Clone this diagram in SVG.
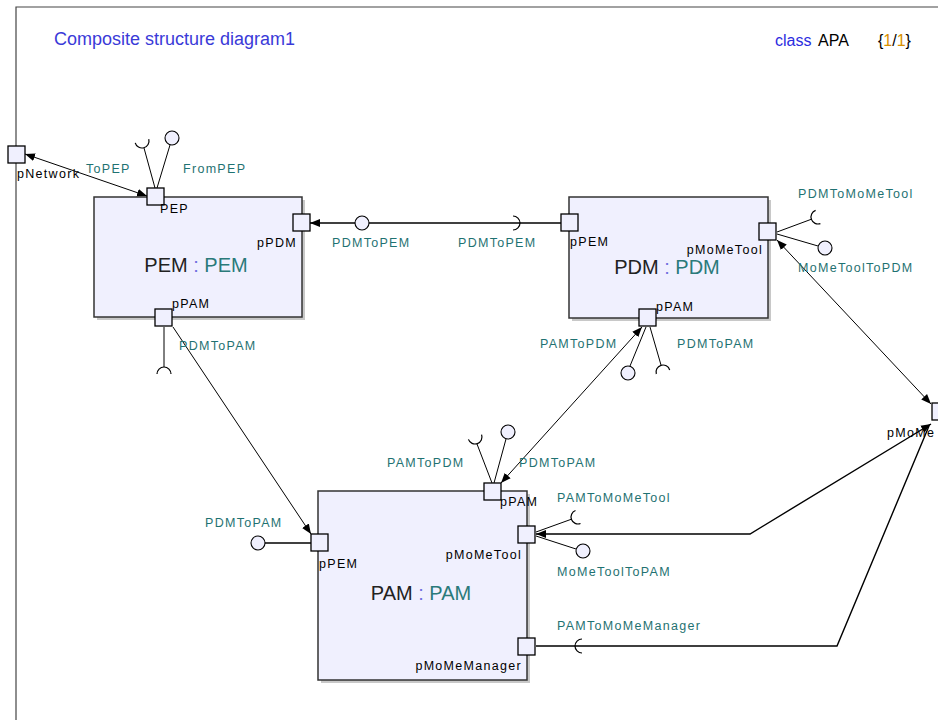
<svg xmlns="http://www.w3.org/2000/svg" width="938" height="720" viewBox="0 0 938 720">
<defs>
<marker id="ah" viewBox="0 0 10 10" refX="10" refY="5" markerWidth="10" markerHeight="10" markerUnits="userSpaceOnUse" orient="auto-start-reverse"><path d="M0,1 L10,5 L0,9 Z" fill="#000"/></marker>
<path id="sock" d="M0,-7 A7,7 0 0 0 0,7" fill="none" stroke="#000" stroke-width="1.2"/>
</defs>
<style>
text{font-family:"Liberation Sans",Arial,sans-serif}
.box{fill:#f0f0fe;stroke:#333;stroke-width:1.5}
.shadow{fill:#c8c8c8}
.port{fill:#f0f0fe;stroke:#000;stroke-width:1.3}
.lab{font-size:12.5px;fill:#000;letter-spacing:1.3px}
.itf{font-size:12.5px;fill:#1f7272;letter-spacing:1.3px}
.ttl{font-size:20px;fill:#222}
.ty{fill:#2a7a7a}
.col{fill:#7070e0}
.ln{fill:none;stroke:#000;stroke-width:1}
.ln2{fill:none;stroke:#000;stroke-width:1.4}
.lol{fill:#f0f0fe;stroke:#000;stroke-width:1.1}
</style>
<rect width="938" height="720" fill="#fff"/>
<g id="frame">
<path d="M16,720 V7 H938" fill="none" stroke="#444" stroke-width="1.2"/>
<text x="54" y="45" font-size="18" fill="#3a3ad8">Composite structure diagram1</text>
<text y="46" font-size="16"><tspan x="775" fill="#2b2be0">class</tspan><tspan x="818" fill="#000">APA</tspan><tspan x="878" fill="#000">{</tspan><tspan fill="#d89000">1</tspan><tspan fill="#000">/</tspan><tspan fill="#d89000">1</tspan><tspan fill="#000">}</tspan></text>
</g>
<g id="connectors">
<line class="ln" x1="25" y1="154" x2="147" y2="196" marker-start="url(#ah)" marker-end="url(#ah)"/>
<line class="ln2" x1="561" y1="223" x2="310" y2="223" marker-end="url(#ah)"/>
<line class="ln" x1="173" y1="327" x2="311" y2="534" marker-end="url(#ah)"/>
<line class="ln" x1="501" y1="483" x2="642" y2="327" marker-start="url(#ah)" marker-end="url(#ah)"/>
<line class="ln" x1="777" y1="240" x2="931" y2="404" marker-start="url(#ah)" marker-end="url(#ah)"/>
<polyline class="ln2" points="536,534 750,534 931,424" marker-start="url(#ah)" marker-end="url(#ah)"/>
<polyline class="ln2" points="536,646 837,646 929,426"/>
</g>
<g id="interfaces">
<line class="ln" x1="155" y1="188" x2="144" y2="148"/>
<use href="#sock" transform="translate(142,141) rotate(-105)"/>
<line class="ln" x1="157" y1="188" x2="170" y2="145"/>
<circle class="lol" cx="172" cy="138" r="7"/>
<text class="itf" x="86" y="173">ToPEP</text>
<text class="itf" x="183" y="173">FromPEP</text>
<circle class="lol" cx="362" cy="223" r="7"/>
<use href="#sock" transform="translate(513,223) rotate(180)"/>
<text class="itf" x="332" y="247">PDMToPEM</text>
<text class="itf" x="458" y="247">PDMToPEM</text>
<line class="ln" x1="164" y1="327" x2="164" y2="367"/>
<use href="#sock" transform="translate(164,374) rotate(90)"/>
<text class="itf" x="179" y="350">PDMToPAM</text>
<line class="ln" x1="777" y1="232" x2="812" y2="219"/>
<use href="#sock" transform="translate(818,217) rotate(-20)"/>
<line class="ln" x1="777" y1="234" x2="818" y2="246"/>
<circle class="lol" cx="825" cy="248" r="7"/>
<text class="itf" x="798" y="198">PDMToMoMeTool</text>
<text class="itf" x="798" y="272">MoMeToolToPDM</text>
<line class="ln" x1="646" y1="327" x2="630" y2="366"/>
<circle class="lol" cx="628" cy="373" r="7"/>
<line class="ln" x1="650" y1="327" x2="661" y2="365"/>
<use href="#sock" transform="translate(663,372) rotate(73)"/>
<text class="itf" x="540" y="348">PAMToPDM</text>
<text class="itf" x="677" y="348">PDMToPAM</text>
<line class="ln" x1="492" y1="483" x2="477" y2="444"/>
<use href="#sock" transform="translate(475,437) rotate(-110)"/>
<line class="ln" x1="494" y1="483" x2="506" y2="439"/>
<circle class="lol" cx="508" cy="432" r="7"/>
<text class="itf" x="387" y="467">PAMToPDM</text>
<text class="itf" x="519" y="467">PDMToPAM</text>
<line class="ln2" x1="311" y1="543" x2="265" y2="543"/>
<circle class="lol" cx="258" cy="543" r="7"/>
<text class="itf" x="205" y="527">PDMToPAM</text>
<line class="ln" x1="536" y1="532" x2="572" y2="519"/>
<use href="#sock" transform="translate(578,517) rotate(-21)"/>
<line class="ln" x1="536" y1="536" x2="576" y2="549"/>
<circle class="lol" cx="583" cy="551" r="7"/>
<text class="itf" x="557" y="502">PAMToMoMeTool</text>
<text class="itf" x="557" y="576">MoMeToolToPAM</text>
<use href="#sock" transform="translate(582,646)"/>
<text class="itf" x="557" y="630">PAMToMoMeManager</text>
</g>
<g id="PEM">
<rect class="shadow" x="97" y="200" width="208" height="120"/>
<rect class="box" x="94" y="197" width="208" height="120"/>
<text class="ttl" x="196" y="272" text-anchor="middle">PEM <tspan class="col">:</tspan> <tspan class="ty">PEM</tspan></text>
<rect class="port" x="147" y="188" width="17" height="17"/>
<text class="lab" x="160" y="213">PEP</text>
<rect class="port" x="293" y="214" width="17" height="17"/>
<text class="lab" x="297" y="247" text-anchor="end">pPDM</text>
<rect class="port" x="155" y="309" width="17" height="17"/>
<text class="lab" x="172" y="308">pPAM</text>
</g>
<g id="pNetwork">
<rect class="port" x="8" y="146" width="17" height="17"/>
<text class="lab" x="17" y="178">pNetwork</text>
</g>
<g id="PDM">
<rect class="shadow" x="572" y="200" width="199" height="121"/>
<rect class="box" x="569" y="197" width="199" height="121"/>
<text class="ttl" x="667" y="274" text-anchor="middle">PDM <tspan class="col">:</tspan> <tspan class="ty">PDM</tspan></text>
<rect class="port" x="561" y="214" width="17" height="17"/>
<text class="lab" x="570" y="246">pPEM</text>
<rect class="port" x="759" y="223" width="17" height="17"/>
<text class="lab" x="763" y="254" text-anchor="end">pMoMeTool</text>
<rect class="port" x="639" y="309" width="17" height="17"/>
<text class="lab" x="656" y="311">pPAM</text>
</g>
<g id="PAM">
<rect class="shadow" x="321" y="494" width="209" height="189"/>
<rect class="box" x="318" y="491" width="209" height="189"/>
<text class="ttl" x="421" y="600" text-anchor="middle">PAM <tspan class="col">:</tspan> <tspan class="ty">PAM</tspan></text>
<rect class="port" x="484" y="483" width="17" height="17"/>
<text class="lab" x="500" y="506">pPAM</text>
<rect class="port" x="311" y="534" width="17" height="17"/>
<text class="lab" x="319" y="568">pPEM</text>
<rect class="port" x="518" y="526" width="17" height="17"/>
<text class="lab" x="522" y="559" text-anchor="end">pMoMeTool</text>
<rect class="port" x="518" y="638" width="17" height="17"/>
<text class="lab" x="522" y="670" text-anchor="end">pMoMeManager</text>
</g>
<g id="pMoMe">
<rect class="port" x="932" y="403" width="17" height="17"/>
<text class="lab" x="887" y="437">pMoMe</text>
</g>
</svg>
